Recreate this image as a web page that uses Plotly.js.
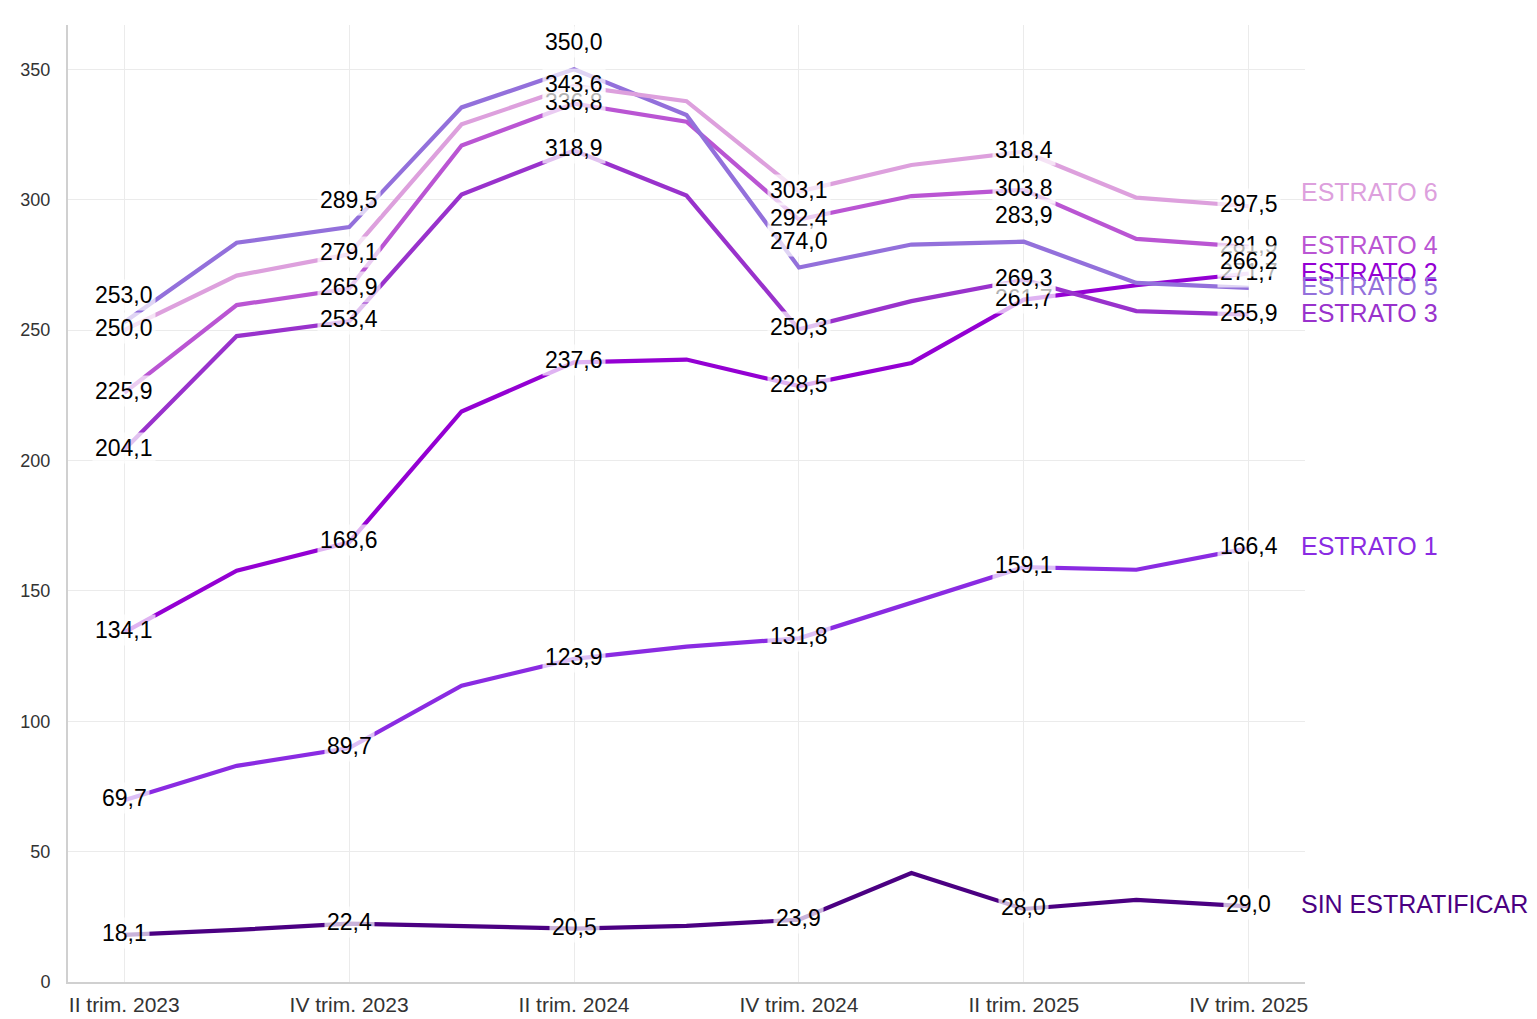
<!DOCTYPE html>
<html>
<head>
<meta charset="utf-8">
<script src="https://cdn.plot.ly/plotly-3.0.1.min.js"></script>
<style>
  html, body { margin: 0; padding: 0; background: #ffffff; }
  #chart { width: 1537px; height: 1019px; }
</style>
</head>
<body>
<div id="chart"></div>
<script>
// ---- Data ----
const categories = ['II trim. 2023','III trim. 2023','IV trim. 2023','I trim. 2024','II trim. 2024','III trim. 2024','IV trim. 2024','I trim. 2025','II trim. 2025','III trim. 2025','IV trim. 2025'];
const tickLabels = ['II trim. 2023','IV trim. 2023','II trim. 2024','IV trim. 2024','II trim. 2025','IV trim. 2025'];

const seriesNames = ['ESTRATO 1','ESTRATO 2','ESTRATO 3','ESTRATO 4','ESTRATO 5','ESTRATO 6','SIN ESTRATIFICAR'];
const estrato1 = [69.7, 82.9, 89.7, 113.6, 123.9, 128.6, 131.8, 145.5, 159.1, 158.1, 166.4];
const estrato2 = [134.1, 157.7, 168.6, 218.8, 237.6, 238.7, 228.5, 237.4, 261.7, 267.2, 271.7];
const estrato3 = [204.1, 247.7, 253.4, 302.0, 318.9, 301.6, 250.3, 261.1, 269.3, 257.3, 255.9];
const estrato4 = [225.9, 259.6, 265.9, 320.8, 336.8, 329.9, 292.4, 301.4, 303.8, 285.0, 281.9];
const estrato5 = [253.0, 283.5, 289.5, 335.4, 350.0, 332.5, 274.0, 282.8, 283.9, 268.1, 266.2];
const estrato6 = [250.0, 270.9, 279.1, 328.9, 343.6, 337.8, 303.1, 313.3, 318.4, 300.8, 297.5];
const sinEstratificar = [18.1, 20.0, 22.4, 21.5, 20.5, 21.5, 23.9, 41.8, 28.0, 31.5, 29.0];

const seriesValues = [estrato1, estrato2, estrato3, estrato4, estrato5, estrato6, sinEstratificar];
const seriesColors = ['#8A2BE2', '#9400D3', '#9932CC', '#BA55D3', '#9370DB', '#DDA0DD', '#4B0082'];

// ---- Build ----
const fmt = v => v.toFixed(1).replace('.', ',');

const traces = seriesValues.map((vals, i) => ({
  type: 'scatter',
  mode: 'lines',
  name: seriesNames[i],
  x: categories,
  y: vals,
  line: { color: seriesColors[i], width: 4.2 },
  hoverinfo: 'skip'
}));

const annotations = [];
// value labels on every second quarter
seriesValues.forEach((vals, i) => {
  const above = seriesNames[i] === 'ESTRATO 5';
  vals.forEach((v, j) => {
    if (j % 2 !== 0) return;
    annotations.push({
      x: categories[j], y: v, xref: 'x', yref: 'y',
      text: fmt(v), showarrow: false,
      xanchor: 'center', yanchor: 'middle',
      yshift: above ? 27 : 2,
      font: { family: 'Liberation Sans, Arial, sans-serif', size: 23, color: '#000000' },
      bgcolor: 'rgba(255,255,255,0.7)', borderpad: 2
    });
  });
});
// series names at the right end
seriesValues.forEach((vals, i) => {
  const last = vals.length - 1;
  annotations.push({
    x: categories[last], y: vals[last], xref: 'x', yref: 'y',
    text: seriesNames[i], showarrow: false,
    xanchor: 'left', yanchor: 'middle',
    xshift: 50, yshift: seriesNames[i] === 'ESTRATO 6' ? 14 : 2,
    font: { family: 'Liberation Sans, Arial, sans-serif', size: 25, color: seriesColors[i] }
  });
});

const layout = {
  width: 1537, height: 1019,
  margin: { l: 68, r: 232, t: 25, b: 37, pad: 0 },
  paper_bgcolor: '#ffffff', plot_bgcolor: '#ffffff',
  showlegend: false,
  font: { family: 'Liberation Sans, Arial, sans-serif', color: '#333333' },
  xaxis: {
    type: 'category',
    categoryorder: 'array', categoryarray: categories,
    range: [-0.5, 10.5],
    tickmode: 'array', tickvals: tickLabels, ticktext: tickLabels,
    tickfont: { size: 21, color: '#333333' },
    showgrid: true, gridcolor: '#ebebeb', gridwidth: 1,
    showline: true, linecolor: '#d0d0d0', linewidth: 2,
    ticks: '', ticklabelstandoff: 3,
    zeroline: false, fixedrange: true
  },
  yaxis: {
    range: [0, 367],
    tickmode: 'array', tickvals: [0, 50, 100, 150, 200, 250, 300, 350],
    tickfont: { size: 18, color: '#333333' },
    showgrid: true, gridcolor: '#ebebeb', gridwidth: 1,
    showline: true, linecolor: '#d0d0d0', linewidth: 2,
    ticks: '', ticklabelstandoff: 12,
    zeroline: false, fixedrange: true
  },
  annotations: annotations
};

Plotly.newPlot('chart', traces, layout, { displayModeBar: false, staticPlot: true });
</script>
</body>
</html>
